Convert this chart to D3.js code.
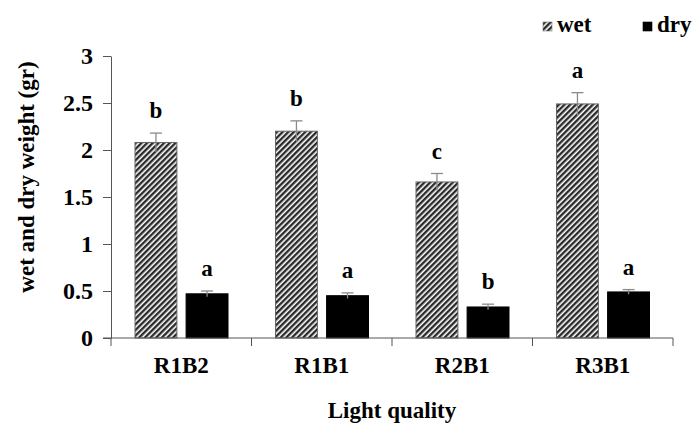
<!DOCTYPE html>
<html lang="en">
<head>
    <meta charset="UTF-8"/>
    <title>Wet and dry weight by light quality</title>
    <script src="https://d3js.org/d3.v7.min.js"></script>
    <style>
        html, body {
            margin: 0;
            padding: 0;
            background: white;
        }
    </style>
</head>
<body>
    <div id="chart"></div>
    <script>
        var w = 695;
        var h = 432;

        // data
        var categories = ["R1B2", "R1B1", "R2B1", "R3B1"];
        var seriesNames = ["wet", "dry"];
        var wetValues = [2.08, 2.20, 1.66, 2.49];
        var wetErrors = [0.10, 0.11, 0.09, 0.12];
        var wetLetters = ["b", "b", "c", "a"];
        var dryValues = [0.47, 0.45, 0.33, 0.49];
        var dryErrors = [0.03, 0.03, 0.03, 0.025];
        var dryLetters = ["a", "a", "b", "a"];
        var yTicks = [0, 0.5, 1, 1.5, 2, 2.5, 3];

        var plotLeft = 111, plotRight = 673, plotTop = 56, plotBottom = 338;
        var serif = "'Liberation Serif', 'Times New Roman', serif";

        var svg = d3.select("#chart")
                    .append("svg")
                    .attr("width", w)
                    .attr("height", h);

        // hatch pattern for the wet bars
        var defs = svg.append("defs");
        defs.append("pattern")
            .attr("id", "hatch")
            .attr("patternUnits", "userSpaceOnUse")
            .attr("width", 4)
            .attr("height", 4)
            .attr("patternTransform", "rotate(45)")
            .append("rect")
            .attr("width", 2.4)
            .attr("height", 4)
            .attr("fill", "#2a2a2a");

        var x0 = d3.scaleBand().domain(categories).range([plotLeft, plotRight]).padding(0);
        var x1 = d3.scaleBand().domain(seriesNames).range([24, 117]).paddingInner(0.18);
        var y = d3.scaleLinear().domain([0, 3]).range([plotBottom, plotTop]);

        // build rows for drawing
        var rows = [];
        categories.forEach(function(c, i) {
            rows.push({cat: c, s: "wet", v: wetValues[i], e: wetErrors[i], l: wetLetters[i]});
            rows.push({cat: c, s: "dry", v: dryValues[i], e: dryErrors[i], l: dryLetters[i]});
        });

        function barMid(d) {
            return x0(d.cat) + x1(d.s) + x1.bandwidth() / 2;
        }

        // bars
        svg.selectAll("rect.bar")
            .data(rows)
            .enter()
            .append("rect")
            .attr("class", "bar")
            .attr("x", function(d) { return x0(d.cat) + x1(d.s); })
            .attr("y", function(d) { return y(d.v); })
            .attr("width", x1.bandwidth())
            .attr("height", function(d) { return y(0) - y(d.v); })
            .attr("fill", function(d) { return d.s == "wet" ? "url(#hatch)" : "black"; })
            .attr("stroke", function(d) { return d.s == "wet" ? "#666" : "black"; })
            .attr("stroke-width", 1);

        // error bars (line + top cap)
        var err = svg.selectAll("g.err")
            .data(rows)
            .enter()
            .append("g")
            .attr("class", "err")
            .attr("stroke", "#8a8a8a")
            .attr("stroke-width", 1.3);

        err.append("line")
            .attr("x1", barMid)
            .attr("x2", barMid)
            .attr("y1", function(d) { return y(d.v - d.e); })
            .attr("y2", function(d) { return y(d.v + d.e); });

        err.append("line")
            .attr("x1", function(d) { return barMid(d) - 6; })
            .attr("x2", function(d) { return barMid(d) + 6; })
            .attr("y1", function(d) { return y(d.v + d.e); })
            .attr("y2", function(d) { return y(d.v + d.e); });

        // significance letters
        svg.selectAll("text.letter")
            .data(rows)
            .enter()
            .append("text")
            .attr("class", "letter")
            .attr("x", barMid)
            .attr("y", function(d) { return y(d.v + d.e) - 15; })
            .attr("text-anchor", "middle")
            .style("font-family", serif)
            .style("font-weight", "bold")
            .style("font-size", "23px")
            .text(function(d) { return d.l; });

        // y axis
        var yAxis = svg.append("g")
            .attr("transform", "translate(" + plotLeft + ",0)")
            .call(d3.axisLeft(y).tickValues(yTicks).tickSize(8).tickSizeOuter(0)
                .tickFormat(function(d) { return d; }));
        yAxis.select(".domain").attr("stroke", "#555");
        yAxis.selectAll(".tick line").attr("stroke", "#555");
        yAxis.selectAll(".tick text")
            .attr("fill", "black")
            .attr("x", -18)
            .style("font-family", serif)
            .style("font-weight", "bold")
            .style("font-size", "24px");

        // x axis with ticks at category boundaries
        var xAxis = svg.append("g")
            .attr("transform", "translate(0," + plotBottom + ")");
        xAxis.append("line")
            .attr("x1", plotLeft - 8).attr("x2", plotRight)
            .attr("stroke", "#555");
        var edges = categories.map(function(c) { return x0(c); }).concat([plotRight]);
        xAxis.selectAll("line.edge")
            .data(edges)
            .enter()
            .append("line")
            .attr("class", "edge")
            .attr("x1", function(d) { return d; })
            .attr("x2", function(d) { return d; })
            .attr("y1", 0)
            .attr("y2", 8)
            .attr("stroke", "#555");
        xAxis.selectAll("text.cat")
            .data(categories)
            .enter()
            .append("text")
            .attr("class", "cat")
            .attr("x", function(d) { return x0(d) + x0.bandwidth() / 2; })
            .attr("y", 35)
            .attr("text-anchor", "middle")
            .style("font-family", serif)
            .style("font-weight", "bold")
            .style("font-size", "23px")
            .text(function(d) { return d; });

        // axis titles
        svg.append("text")
            .attr("x", (plotLeft + plotRight) / 2)
            .attr("y", 418)
            .attr("text-anchor", "middle")
            .style("font-family", serif)
            .style("font-weight", "bold")
            .style("font-size", "23px")
            .text("Light quality");

        svg.append("text")
            .attr("transform", "translate(34,177) rotate(-90)")
            .attr("text-anchor", "middle")
            .style("font-family", serif)
            .style("font-weight", "bold")
            .style("font-size", "23px")
            .text("wet and dry weight (gr)");

        // legend
        var legendX = [543, 643];
        var legend = svg.selectAll("g.legend")
            .data(seriesNames)
            .enter()
            .append("g")
            .attr("class", "legend")
            .attr("transform", function(d, i) { return "translate(" + legendX[i] + ",0)"; });
        legend.append("rect")
            .attr("x", 0)
            .attr("y", 22)
            .attr("width", 9)
            .attr("height", 9)
            .attr("fill", function(d) { return d == "wet" ? "url(#hatch)" : "black"; })
            .attr("stroke", function(d) { return d == "wet" ? "#777" : "black"; })
            .attr("stroke-width", 0.6);
        legend.append("text")
            .attr("x", 14)
            .attr("y", 32)
            .style("font-family", serif)
            .style("font-weight", "bold")
            .style("font-size", "23px")
            .text(function(d) { return d; });
    </script>
</body>
</html>
